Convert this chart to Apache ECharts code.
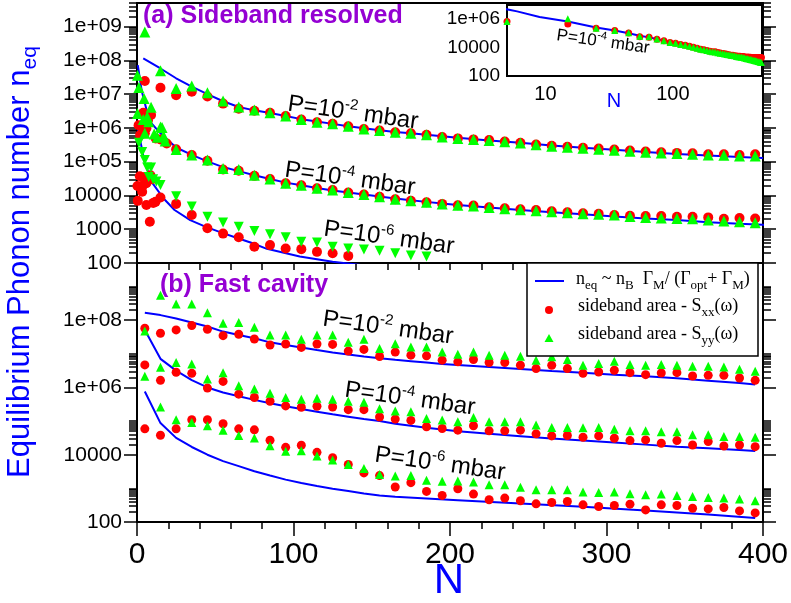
<!DOCTYPE html>
<html>
<head>
<meta charset="utf-8">
<script src="https://cdn.jsdelivr.net/npm/echarts@6/dist/echarts.min.js"></script>
<style>
  html, body { margin: 0; padding: 0; background: #fff; }
  #chart { width: 791px; height: 603px; }
</style>
</head>
<body>
<div id="chart"></div>
<script>
// all values as log10(n_eq)
var N_GRID = [5,15,25,35,45,55,65,75,85,95,105,115,125,135,145,155,165,175,185,195,
              205,215,225,235,245,255,265,275,285,295,305,315,325,335,345,355,365,375,385,395];

// ---- (a) sideband resolved ----
var aHiRed   = [7.39,7.19,6.97,7.07,6.93,6.72,6.57,6.51,6.45,6.35,6.25,6.17,6.12,6.05,5.97,5.92,5.87,5.84,5.80,5.73,
                5.69,5.66,5.64,5.60,5.56,5.51,5.47,5.44,5.41,5.39,5.36,5.33,5.30,5.28,5.26,5.25,5.22,5.22,5.20,5.22];
var aHiGreen = [8.84,7.69,7.17,7.24,7.04,6.80,6.62,6.53,6.45,6.35,6.25,6.17,6.12,6.05,5.97,5.92,5.87,5.84,5.80,5.73,
                5.69,5.66,5.63,5.59,5.55,5.50,5.46,5.43,5.40,5.37,5.34,5.31,5.28,5.26,5.24,5.22,5.20,5.19,5.17,5.17];
var aHiLineN = [4,15,25,35,45,55,65,75,85,95,105,115,125,135,145,155,165,175,185,195,205,225,245,265,285,305,325,345,365,385,400];
var aHiLine  = [8.06,7.76,7.47,7.22,7.00,6.79,6.62,6.52,6.44,6.35,6.26,6.19,6.12,6.05,5.99,5.93,5.88,5.84,5.80,5.75,5.71,
                5.63,5.56,5.48,5.41,5.35,5.29,5.23,5.18,5.14,5.11];

var aMidRed   = [5.84,5.66,5.37,5.20,5.03,4.77,4.73,4.58,4.49,4.36,4.30,4.21,4.16,4.09,4.03,3.96,3.89,3.84,3.80,3.75,
                 3.71,3.70,3.65,3.62,3.59,3.57,3.53,3.50,3.47,3.46,3.42,3.40,3.39,3.39,3.37,3.37,3.35,3.31,3.33,3.32];
var aMidGreen = [5.84,6.03,5.36,5.20,5.05,4.80,4.77,4.60,4.49,4.36,4.30,4.21,4.16,4.09,4.03,3.96,3.89,3.84,3.80,3.75,
                 3.71,3.69,3.64,3.61,3.58,3.55,3.52,3.49,3.46,3.44,3.42,3.38,3.35,3.33,3.32,3.31,3.27,3.24,3.22,3.19];
var aMidRedFew   = [[1,6.08],[2,5.79],[3,6.03],[4,6.45],[6,5.99],[7,6.23],[9,6.38],[12,5.69],[19,5.54]];
var aMidGreenFew = [[0.3,7.56],[1.2,7.20],[0.3,6.43],[4.5,6.87],[4,6.25],[6.5,6.33],[7.5,6.18],[9,6.61],
                    [16,6.01],[11,5.82],[13,5.72],[17,5.76],[18,5.61]];
var aMidLineN = [0.5,3,6,9,15,25,35,45,55,65,75,85,95,105,115,125,135,145,155,165,175,185,195,205,
                 225,245,265,285,305,325,345,365,385,400,420,440,460,480,500];
var aMidLine  = [7.86,7.10,6.55,6.15,5.84,5.42,5.20,5.01,4.84,4.72,4.60,4.49,4.38,4.30,4.22,4.15,4.09,4.03,3.97,3.91,
                 3.86,3.81,3.76,3.72,3.64,3.57,3.50,3.44,3.38,3.32,3.27,3.21,3.16,3.13,3.07,3.02,2.97,2.93,2.89];
// beyond N=400, only seen in the inset
var EXT_N = [405,415,425,435,445,455,465,475,485,495];
var aMidRedExt   = [3.32,3.31,3.31,3.30,3.30,3.31,3.30,3.29,3.30,3.30];
var aMidGreenExt = [3.17,3.15,3.12,3.10,3.07,3.05,3.02,3.00,2.97,2.95];

var aLoRed   = [4.55,3.94,3.75,3.42,3.03,2.87,2.76,2.48,2.53,2.43,2.41,2.33,2.29,2.21];
var aLoGreen = [5.05,4.31,3.98,3.67,3.37,3.20,3.07,2.95,2.85,2.76,2.63,2.61,2.48,2.43,2.40,2.36,2.29,2.22,2.19];
var aLoRedFew   = [[1.8,4.57],[0.3,4.28],[4,4.31],[6,4.36],[3.3,4.11],[8.6,4.60],[9.7,4.48],[0.5,3.84],
                   [6,3.72],[10.4,3.78],[11.8,3.81],[8.2,3.22]];
var aLoGreenFew = [[1.2,5.56],[3.3,5.29],[6.5,4.83],[9,4.83],[7.5,4.55],[10.3,4.48],[12.4,4.41]];
var aLoLineN = [0.5,5,10,17,24,34,44,54,64,73,83,104,125,145];
var aLoLine  = [5.99,4.95,4.36,3.91,3.57,3.27,3.07,2.90,2.74,2.60,2.42,2.19,2.04,1.93];

// ---- (b) fast cavity ----
var bHiRed   = [7.76,7.61,7.71,7.84,7.73,7.54,7.58,7.44,7.26,7.29,7.19,7.29,7.28,7.08,7.13,6.92,7.05,6.96,6.94,6.81,
                6.76,6.83,6.74,6.74,6.66,6.56,6.66,6.56,6.42,6.46,6.51,6.44,6.38,6.43,6.44,6.34,6.36,6.36,6.28,6.21];
var bHiGreen = [7.68,8.74,8.48,8.48,8.22,7.91,7.93,7.79,7.56,7.56,7.43,7.56,7.56,7.34,7.43,7.16,7.30,7.20,7.20,7.05,
                6.99,7.05,6.96,6.96,6.93,6.81,6.91,6.83,6.66,6.71,6.78,6.68,6.66,6.68,6.66,6.63,6.63,6.61,6.54,6.48];
var bHiLineN = [5,15,25,35,45,55,65,75,85,95,105,115,125,135,145,155,165,175,185,195,205,225,245,265,285,305,325,345,365,385,395];
var bHiLine  = [8.22,8.15,8.05,7.93,7.81,7.66,7.56,7.46,7.34,7.26,7.19,7.11,7.04,6.98,6.92,6.87,6.82,6.78,6.74,6.70,
                6.67,6.61,6.55,6.49,6.44,6.38,6.33,6.27,6.20,6.13,6.09];

var bMidRed   = [6.67,6.21,6.45,6.42,5.98,6.18,5.80,5.70,5.59,5.45,5.41,5.44,5.42,5.34,5.34,5.12,5.06,5.02,4.83,4.78,
                 4.73,4.86,4.71,4.71,4.73,4.62,4.56,4.57,4.52,4.56,4.49,4.42,4.44,4.34,4.42,4.29,4.39,4.26,4.29,4.24];
var bMidGreen = [6.33,6.60,6.74,6.70,6.25,6.44,6.05,5.95,5.83,5.70,5.65,5.68,5.65,5.59,5.56,5.37,5.30,5.28,5.08,5.03,
                 4.98,5.11,4.98,4.98,4.98,4.88,4.81,4.81,4.80,4.81,4.76,4.71,4.71,4.68,4.68,4.59,4.59,4.54,4.54,4.52];
var bMidLineN = [5,15,25,35,45,55,65,75,85,95,105,115,125,135,145,155,165,185,205,225,245,265,285,305,325,345,365,385,395];
var bMidLine  = [7.71,6.85,6.50,6.22,6.00,5.85,5.74,5.63,5.53,5.44,5.36,5.28,5.20,5.13,5.06,5.00,4.92,
                 4.80,4.70,4.62,4.55,4.48,4.42,4.36,4.30,4.24,4.19,4.14,4.11];

var bLoRed   = [4.77,4.58,4.77,5.04,5.04,4.92,4.77,4.74,4.43,4.22,4.28,4.07,3.91,3.71,3.46,3.38,3.04,3.17,2.91,2.79,
                2.99,2.83,2.66,2.71,2.63,2.54,2.58,2.61,2.51,2.46,2.49,2.53,2.36,2.51,2.49,2.41,2.39,2.43,2.33,2.27];
var bLoGreen = [null,5.42,5.04,4.96,4.86,4.73,4.57,4.50,4.27,4.10,4.12,3.96,3.84,3.71,3.59,3.41,3.37,3.38,3.24,3.21,
                3.22,3.19,3.11,3.11,3.03,2.96,2.96,2.96,2.89,2.88,2.89,2.84,2.81,2.83,2.79,2.76,2.73,2.71,2.68,2.63];
var bLoLineN = [5,15,25,35,45,55,65,75,85,95,105,115,125,135,145,155,165,205,245,285,325,365,395];
var bLoLine  = [5.88,4.94,4.50,4.23,4.00,3.81,3.66,3.51,3.38,3.26,3.16,3.07,2.99,2.92,2.85,2.79,2.75,
                2.65,2.55,2.45,2.34,2.22,2.12];

// tick positions
var MINOR_MULT = [2,3,4,5,6,7,8,9];
var INSET_X_MINOR = [6,7,8,9,20,30,40,50,60,70,80,90,200,300,400];

var FONT = 'Liberation Sans, Arial, sans-serif';
var SERIF = 'Liberation Serif, Times New Roman, serif';
var BLUE = '#0000ff', RED = '#ff0000', GREEN = '#00ff00', PURPLE = '#9400d3';
var LOG = Math.log10;
var YMAX = 5e9;

function pairs(ns, exps) {
    var out = [];
    for (var i = 0; i < exps.length; i++) {
        if (exps[i] != null) out.push([ns[i], Math.pow(10, exps[i])]);
    }
    return out;
}
function few(list) {
    return list.map(function (p) { return [p[0], Math.pow(10, p[1])]; });
}

function lineS(xi, yi, data) {
    return { type: 'line', xAxisIndex: xi, yAxisIndex: yi, data: data, symbol: 'none', z: 2,
             lineStyle: { color: BLUE, width: 2 }, silent: true };
}
function dotS(xi, yi, data, size) {
    return { type: 'scatter', xAxisIndex: xi, yAxisIndex: yi, data: data, symbol: 'circle',
             symbolSize: size, z: 3, clip: false, silent: true,
             itemStyle: { color: RED, opacity: 1 } };
}
function triS(xi, yi, data, size, down) {
    return { type: 'scatter', xAxisIndex: xi, yAxisIndex: yi, data: data, symbol: 'triangle',
             symbolSize: size, symbolRotate: down ? 180 : 0, z: 4, clip: false, silent: true,
             itemStyle: { color: GREEN, opacity: 1 } };
}

function decadeLabel(v) {
    var k = Math.round(v);
    if (k <= 4) return String(Math.pow(10, k));
    return '1e+' + (k < 10 ? '0' : '') + k;
}

// value axis in log10 units, used only to draw ticks / labels
function tickAxis(grid, pos, min, max, ticks, len, inside, labels, fontSize, margin, fmt) {
    return {
        type: 'value', gridIndex: grid, position: pos, min: min, max: max, silent: true,
        axisLine: { show: false }, splitLine: { show: false },
        axisTick: { show: true, inside: inside, length: len, customValues: ticks,
                    lineStyle: { color: '#000', width: 1.5 } },
        axisLabel: labels ? { show: true, customValues: labels, formatter: fmt || decadeLabel,
                              fontSize: fontSize, margin: margin, color: '#000', fontFamily: FONT }
                          : { show: false }
    };
}

function minorList(decades, top, upto10) {
    var out = [];
    decades.forEach(function (k) {
        var ms = upto10 ? MINOR_MULT.concat([10]) : MINOR_MULT;
        ms.forEach(function (m) {
            var v = k + LOG(m);
            if (v <= top + 1e-9) out.push(v);
        });
    });
    return out;
}

var topA = LOG(YMAX);
var majA = [2,3,4,5,6,7,8,9];
var minA = minorList([2,3,4,5,6,7,8,9], topA, false);
var majB = [2,4,6,8];
var minB = minorList([2,4,6,8], topA, true);
var majI = [2,4,6];
var minI = minorList([2,4,6], 7, true);

var chart = echarts.init(document.getElementById('chart'), null, { renderer: 'canvas' });

var gridStyle = { show: true, borderColor: '#000', borderWidth: 2, backgroundColor: '#fff',
                  containLabel: false, outerBoundsMode: 'none' };

var option = {
    animation: false,
    backgroundColor: '#fff',
    grid: [
        Object.assign({ left: 137, top: 3, width: 626, height: 260 }, gridStyle),
        Object.assign({ left: 137, top: 263, width: 626, height: 259 }, gridStyle),
        Object.assign({ left: 507, top: 5, width: 255, height: 71, z: 5 }, gridStyle)
    ],
    xAxis: [
        { type: 'value', gridIndex: 0, min: 0, max: 400, interval: 20,
          axisLine: { show: false }, splitLine: { show: false }, axisLabel: { show: false },
          axisTick: { length: 7, lineStyle: { color: '#000', width: 1.5 } } },
        { type: 'value', gridIndex: 1, min: 0, max: 400, interval: 100,
          axisLine: { show: false }, splitLine: { show: false },
          axisTick: { length: 14, lineStyle: { color: '#000', width: 1.5 } },
          minorTick: { show: true, splitNumber: 5, length: 7, lineStyle: { color: '#000', width: 1.5 } },
          axisLabel: { fontSize: 30, margin: 18, color: '#000', fontFamily: FONT } },
        { type: 'log', logBase: 10, gridIndex: 2, min: 5, max: 500, show: false },
        tickAxis(2, 'bottom', LOG(5), LOG(500), [1, 2], 13, true, [1, 2], 20, 8,
                 function (v) { return String(Math.round(Math.pow(10, v))); }),
        tickAxis(2, 'bottom', LOG(5), LOG(500), INSET_X_MINOR.map(LOG), 7, true, null)
    ],
    yAxis: [
        { type: 'log', logBase: 10, gridIndex: 0, min: 100, max: YMAX, show: false },
        tickAxis(0, 'left', 2, topA, majA, 13, false, majA, 21, 15),
        tickAxis(0, 'left', 2, topA, minA, 8, false, null),
        tickAxis(0, 'right', 2, topA, majA, 13, false, null),
        tickAxis(0, 'right', 2, topA, minA, 8, false, null),

        { type: 'log', logBase: 10, gridIndex: 1, min: 100, max: YMAX, show: false },
        tickAxis(1, 'left', 2, topA, majB, 13, false, majB, 21, 15),
        tickAxis(1, 'left', 2, topA, minB, 8, false, null),
        tickAxis(1, 'right', 2, topA, majB, 13, false, null),
        tickAxis(1, 'right', 2, topA, minB, 8, false, null),

        { type: 'log', logBase: 10, gridIndex: 2, min: 100, max: 1e7, show: false },
        tickAxis(2, 'left', 2, 7, majI, 13, true, majI, 19, 7),
        tickAxis(2, 'left', 2, 7, minI, 7, true, null)
    ],
    series: [
        // (a)
        lineS(0, 0, pairs(aHiLineN, aHiLine)),
        lineS(0, 0, pairs(aMidLineN, aMidLine)),
        lineS(0, 0, pairs(aLoLineN, aLoLine)),
        dotS(0, 0, pairs(N_GRID, aHiRed), 10),
        dotS(0, 0, pairs(N_GRID, aMidRed).concat(few(aMidRedFew)), 10),
        dotS(0, 0, pairs(N_GRID, aLoRed).concat(few(aLoRedFew)), 10),
        triS(0, 0, pairs(N_GRID, aHiGreen), 11, false),
        triS(0, 0, pairs(N_GRID, aMidGreen).concat(few(aMidGreenFew)), 11, false),
        triS(0, 0, pairs(N_GRID, aLoGreen).concat(few(aLoGreenFew)), 10, true),
        // (b)
        lineS(1, 5, pairs(bHiLineN, bHiLine)),
        lineS(1, 5, pairs(bMidLineN, bMidLine)),
        lineS(1, 5, pairs(bLoLineN, bLoLine)),
        dotS(1, 5, pairs(N_GRID, bHiRed), 9),
        dotS(1, 5, pairs(N_GRID, bMidRed), 9),
        dotS(1, 5, pairs(N_GRID, bLoRed), 9),
        triS(1, 5, pairs(N_GRID, bHiGreen), 9, false),
        triS(1, 5, pairs(N_GRID, bMidGreen), 9, false),
        triS(1, 5, pairs(N_GRID, bLoGreen), 9, false),
        // inset: (a) P=1e-4 on log-log axes
        Object.assign(lineS(2, 10, pairs(aMidLineN, aMidLine)), { z: 6 }),
        Object.assign(dotS(2, 10, pairs(N_GRID, aMidRed).concat(pairs(EXT_N, aMidRedExt)), 7), { z: 7 }),
        Object.assign(triS(2, 10, pairs(N_GRID, aMidGreen).concat(pairs(EXT_N, aMidGreenExt)), 7, false), { z: 8 })
    ],
    graphic: buildGraphics()
};

function pLabel(x, y, sup, big, small) {
    return {
        type: 'text', x: x, y: y, rotation: -0.14, z: 50, silent: true,
        style: {
            text: '{a|P=10}{b|' + sup + '}{a| mbar}', align: 'center', verticalAlign: 'middle',
            rich: {
                a: { fontSize: big, fontFamily: FONT, fill: '#000', lineHeight: big + 6, verticalAlign: 'middle' },
                b: { fontSize: small, fontFamily: FONT, fill: '#000', lineHeight: small + 1, verticalAlign: 'top' }
            }
        }
    };
}

function legendRow(x, y, text) {
    return {
        type: 'text', x: x, y: y, z: 101, silent: true,
        style: {
            text: text, align: 'left', verticalAlign: 'middle',
            rich: {
                t: { fontSize: 18, fontFamily: SERIF, fill: '#000', lineHeight: 22, verticalAlign: 'top' },
                s: { fontSize: 13, fontFamily: SERIF, fill: '#000', lineHeight: 10, verticalAlign: 'bottom' }
            }
        }
    };
}

function buildGraphics() {
    return [
        { type: 'text', x: 143, y: 16, z: 50, silent: true,
          style: { text: '(a) Sideband resolved', fontSize: 25, fontWeight: 'bold', fontFamily: FONT,
                   fill: PURPLE, align: 'left', verticalAlign: 'middle' } },
        { type: 'text', x: 160, y: 285, z: 50, silent: true,
          style: { text: '(b) Fast cavity', fontSize: 25, fontWeight: 'bold', fontFamily: FONT,
                   fill: PURPLE, align: 'left', verticalAlign: 'middle' } },

        pLabel(353, 113, '-2', 24, 15),
        pLabel(350, 179, '-4', 24, 15),
        pLabel(389, 238, '-6', 24, 15),
        pLabel(388, 328, '-2', 24, 15),
        pLabel(410, 399, '-4', 24, 15),
        pLabel(440, 464, '-6', 24, 15),
        pLabel(603, 42, '-4', 17, 11),

        // axis titles
        { type: 'text', x: 449, y: 581, z: 50, silent: true,
          style: { text: 'N', fontSize: 42, fontFamily: FONT, fill: BLUE, align: 'center', verticalAlign: 'middle' } },
        { type: 'text', x: 614, y: 101, z: 50, silent: true,
          style: { text: 'N', fontSize: 20, fontFamily: FONT, fill: BLUE, align: 'center', verticalAlign: 'middle' } },
        { type: 'text', x: 23, y: 262, rotation: Math.PI / 2, z: 50, silent: true,
          style: {
              text: '{a|Equilibrium Phonon number n}{s|eq}', align: 'center', verticalAlign: 'middle',
              rich: {
                  a: { fontSize: 31, fontFamily: FONT, fill: BLUE, lineHeight: 36, verticalAlign: 'top' },
                  s: { fontSize: 21, fontFamily: FONT, fill: BLUE, lineHeight: 12, verticalAlign: 'bottom' }
              }
          } },

        // legend
        { type: 'rect', z: 100, silent: true,
          shape: { x: 527, y: 263, width: 231, height: 93 },
          style: { fill: '#fff', stroke: '#000', lineWidth: 1.5 } },
        { type: 'line', z: 101, silent: true,
          shape: { x1: 535, y1: 281, x2: 564, y2: 281 },
          style: { stroke: BLUE, lineWidth: 2 } },
        { type: 'circle', z: 101, silent: true,
          shape: { cx: 549, cy: 310, r: 4 }, style: { fill: RED } },
        { type: 'polygon', z: 101, silent: true,
          shape: { points: [[549, 334], [544.5, 342], [553.5, 342]] }, style: { fill: GREEN } },
        legendRow(576, 281, '{t|n}{s|eq}{t| ~ n}{s|B}{t|  Γ}{s|M}{t|/ (Γ}{s|opt}{t|+ Γ}{s|M}{t|)}'),
        legendRow(578, 308, '{t|sideband area - S}{s|xx}{t|(ω)}'),
        legendRow(578, 336, '{t|sideband area - S}{s|yy}{t|(ω)}')
    ];
}

chart.setOption(option);
</script>
</body>
</html>
